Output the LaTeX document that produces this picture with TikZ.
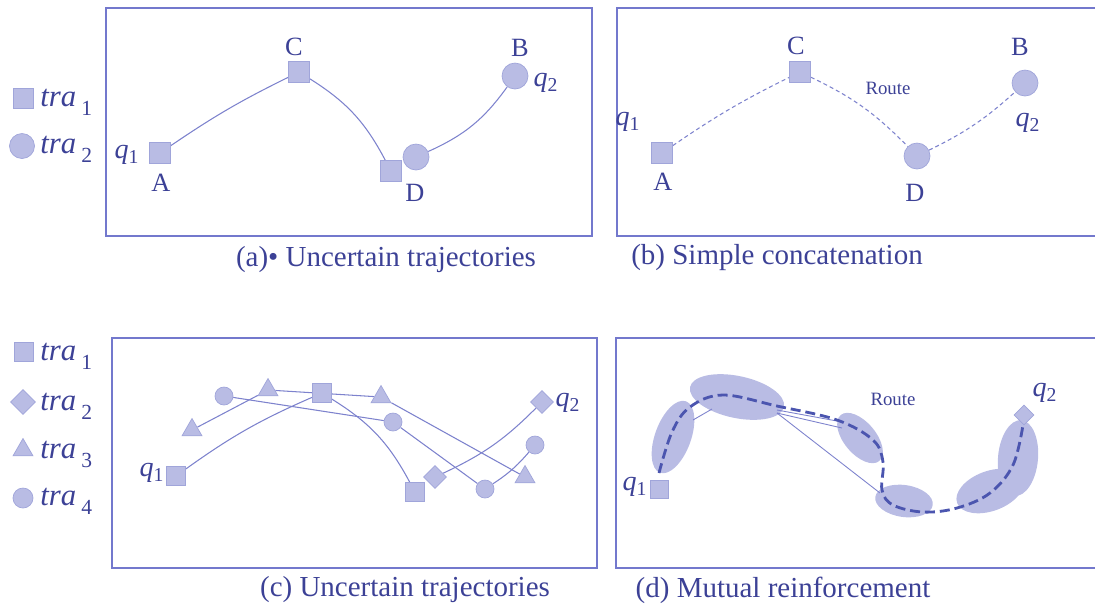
\documentclass[tikz,border=0pt]{standalone}
\usepackage{fontspec}
\setmainfont{Liberation Serif}
\usetikzlibrary{shapes.geometric,backgrounds}
\definecolor{frameblue}{RGB}{115,120,205}
\definecolor{textblue}{RGB}{60,65,150}
\definecolor{markfill}{RGB}{185,188,228}
\definecolor{markline}{RGB}{160,165,218}
\definecolor{lineblue}{RGB}{125,130,205}
\definecolor{routeblue}{RGB}{75,85,175}
\tikzset{
  frm/.style={draw=frameblue,line width=1.2pt},
  mk/.style={fill=markfill,draw=markline,line width=0.4pt,inner sep=0pt},
  sqmark/.style={mk,rectangle,minimum size=#1},
  sqmark/.default=0.42cm,
  cirmark/.style={mk,circle,minimum size=#1},
  cirmark/.default=0.52cm,
  dimark/.style={mk,diamond,minimum size=#1},
  dimark/.default=0.46cm,
  trimark/.style={mk,regular polygon,regular polygon sides=3,minimum size=#1},
  trimark/.default=0.46cm,
  lbl/.style={text=textblue,inner sep=0pt,font=\fontsize{15}{17}\selectfont},
  qlbl/.style={text=textblue,inner sep=0pt,font=\fontsize{16}{18}\selectfont},
  leg/.style={text=textblue,inner sep=0pt,anchor=base west,font=\fontsize{17.5}{19}\selectfont},
  rlbl/.style={text=textblue,inner sep=0pt,font=\fontsize{10.7}{12}\selectfont},
  capt/.style={text=textblue,inner sep=0pt,font=\fontsize{16.5}{19}\selectfont},
  traj/.style={draw=lineblue,line width=0.6pt},
  dtraj/.style={traj,dash pattern=on 2.3pt off 1.7pt},
  route/.style={draw=routeblue,line width=1.6pt,dash pattern=on 5.7pt off 2.8pt},
  blob/.style={fill=markfill}
}
\newcommand{\trasub}[1]{\textit{tra}\,\raisebox{-0.35ex}{\textsubscript{#1}}}
\begin{document}
\begin{tikzpicture}[x=0.02cm,y=-0.02cm]
  \useasboundingbox (0,0) rectangle (1095,610);
  \draw[frm] (106,8) rectangle (592,236);
  \draw[frm] (1095,8) -- (617,8) -- (617,236) -- (1095,236);
  \draw[frm] (112,338) rectangle (597,568);
  \draw[frm] (1095,338) -- (616,338) -- (616,568) -- (1095,568);

  \node[sqmark=0.4cm] (la1) at (23,98) {};
  \node[leg] (ta1) at (40,106) {\trasub{1}};
  \node[cirmark=0.5cm] (la2) at (22,146) {};
  \node[leg] (ta2) at (40,153) {\trasub{2}};

  \node[sqmark] (aA) at (160,153) {};
  \node[sqmark] (aC) at (299,72) {};
  \node[sqmark] (aDs) at (391,171) {};
  \node[cirmark] (aDc) at (416,157) {};
  \node[cirmark] (aB) at (515,76) {};
  \node[lbl] (aAl) at (161,183) {A};
  \node[lbl] (aCl) at (294,47) {C};
  \node[lbl] (aDl) at (415,193) {D};
  \node[lbl] (aBl) at (520,48) {B};
  \node[qlbl] (aq1) at (127,155) {\textit{q}\textsubscript{1}};
  \node[qlbl] (aq2) at (546,83) {\textit{q}\textsubscript{2}};
  \begin{scope}[on background layer]
    \draw[traj] (aA) to[bend left=4] (aC);
    \draw[traj] (aC) to[bend left=15] (aDs);
    \draw[traj] (aDc) to[bend right=15] (aB);
  \end{scope}
  \node[capt] (capa) at (386,260) {(a)• Uncertain trajectories};

  \node[sqmark] (bA) at (662,153) {};
  \node[sqmark] (bC) at (800,72) {};
  \node[cirmark] (bD) at (917,156) {};
  \node[cirmark] (bB) at (1025,83) {};
  \node[lbl] (bAl) at (663,182) {A};
  \node[lbl] (bCl) at (796,46) {C};
  \node[lbl] (bDl) at (915,193) {D};
  \node[lbl] (bBl) at (1020,47) {B};
  \node[qlbl] (bq1) at (628,122) {\textit{q}\textsubscript{1}};
  \node[qlbl] (bq2) at (1028,123) {\textit{q}\textsubscript{2}};
  \node[rlbl] (broute) at (888,88) {Route};
  \begin{scope}[on background layer]
    \draw[dtraj] (bA) to[bend left=4] (bC);
    \draw[dtraj] (bC) to[bend left=10] (bD);
    \draw[dtraj] (bD) to[bend right=8] (bB);
  \end{scope}
  \node[capt] (capb) at (777,258) {(b) Simple concatenation};

  \node[sqmark=0.38cm] (lc1) at (24,352) {};
  \node[leg] (tc1) at (40,360) {\trasub{1}};
  \node[dimark=0.5cm] (lc2) at (23,402) {};
  \node[leg] (tc2) at (40,410) {\trasub{2}};
  \node[trimark=0.46cm] (lc3) at (23,450) {};
  \node[leg] (tc3) at (40,458) {\trasub{3}};
  \node[cirmark=0.4cm] (lc4) at (23,498) {};
  \node[leg] (tc4) at (40,505) {\trasub{4}};

  \node[sqmark=0.38cm] (cS1) at (176,476) {};
  \node[sqmark=0.38cm] (cS2) at (322,393) {};
  \node[sqmark=0.38cm] (cS3) at (415,492) {};
  \node[dimark] (cD1) at (435,477) {};
  \node[dimark] (cD2) at (542,402) {};
  \node[trimark] (cT1) at (192,430) {};
  \node[trimark] (cT2) at (268,390) {};
  \node[trimark] (cT3) at (381,397) {};
  \node[trimark] (cT4) at (525,477) {};
  \node[cirmark=0.36cm] (cC1) at (224,396) {};
  \node[cirmark=0.36cm] (cC2) at (393,422) {};
  \node[cirmark=0.36cm] (cC3) at (485,489) {};
  \node[cirmark=0.36cm] (cC4) at (535,445) {};
  \node[qlbl] (cq1) at (152,473) {\textit{q}\textsubscript{1}};
  \node[qlbl] (cq2) at (568,403) {\textit{q}\textsubscript{2}};
  \begin{scope}[on background layer]
    \draw[traj] (cS1) to[bend left=6] (cS2);
    \draw[traj] (cS2) to[bend left=15] (cS3);
    \draw[traj] (cD1) to[bend right=10] (cD2);
    \draw[traj] (cT1) -- (cT2) -- (cT3) -- (cT4);
    \draw[traj] (cC1) -- (cC2) -- (cC3) to[bend right=8] (cC4);
  \end{scope}
  \node[capt] (capc) at (405,590) {(c) Uncertain trajectories};

  \fill[blob,rotate around={70:(673,437)}] (673,437) ellipse [x radius=38,y radius=18];
  \fill[blob,rotate around={-12:(737,397)}] (737,397) ellipse [x radius=48,y radius=21];
  \fill[blob,rotate around={-50:(860,438)}] (860,438) ellipse [x radius=30,y radius=16];
  \fill[blob,rotate around={-8:(904,501)}] (904,501) ellipse [x radius=29,y radius=16];
  \fill[blob,rotate around={20:(990,491)}] (990,491) ellipse [x radius=35,y radius=20];
  \fill[blob,rotate around={85:(1018,458)}] (1018,458) ellipse [x radius=38,y radius=20];
  \draw[traj,line width=0.5pt] (693,420) -- (712,409);
  \draw[traj,line width=0.5pt] (777,410) -- (837,421);
  \draw[traj,line width=0.5pt] (777,413) -- (842,428);
  \draw[traj,line width=0.5pt] (777,413) -- (880,493);
  \draw[route] plot[smooth,tension=0.6] coordinates {(659,473) (672,432) (690,407) (723,395) (777,406) (837,420) (873,440) (883,462) (882,490) (893,505) (923,512) (957,508) (990,493) (1013,465) (1023,425)};
  \node[sqmark=0.36cm] (dS) at (659,489) {};
  \node[dimark=0.4cm] (dD) at (1024,415) {};
  \node[qlbl] (dq1) at (635,487) {\textit{q}\textsubscript{1}};
  \node[qlbl] (dq2) at (1045,393) {\textit{q}\textsubscript{2}};
  \node[rlbl] (droute) at (893,399) {Route};
  \node[capt] (capd) at (783,590) {(d) Mutual reinforcement};
\end{tikzpicture}
\end{document}
